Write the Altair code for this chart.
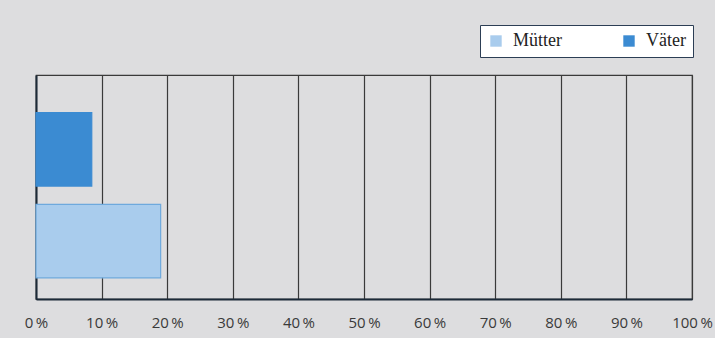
import altair as alt
import pandas as pd

# Share of parents (percent)
groups = ["Väter", "Mütter"]
shares = [8.5, 19.0]
colors = ["#3b8bd2", "#a9cced"]
outlines = ["#3b8bd2", "#6ea9dd"]
ticks = [0, 10, 20, 30, 40, 50, 60, 70, 80, 90, 100]

df = pd.DataFrame({"Gruppe": groups, "Anteil": shares})

bars = alt.Chart(df).mark_bar(strokeWidth=1.2).encode(
    x=alt.X(
        "Anteil:Q",
        scale=alt.Scale(domain=[0, 100], nice=False),
        axis=alt.Axis(
            values=ticks,
            labelExpr="datum.value + '\u2009%'",
            title=None,
            grid=True,
            gridColor="#3a3a3a",
            gridWidth=1.2,
            gridOpacity=1,
            ticks=False,
            domain=True,
            domainColor="#1c2a38",
            domainWidth=2,
            labelFont="Open Sans",
            labelFontSize=15,
            labelColor="#3a3a3a",
            labelPadding=16,
            labelFlush=False,
        ),
    ),
    y=alt.Y(
        "Gruppe:N",
        sort=groups,
        scale=alt.Scale(paddingInner=0.2, paddingOuter=0.32, align=0.64),
        axis=alt.Axis(
            labels=False,
            ticks=False,
            title=None,
            domain=True,
            domainColor="#1c2a38",
            domainWidth=2,
            grid=False,
        ),
    ),
    color=alt.Color(
        "Gruppe:N",
        scale=alt.Scale(domain=groups, range=colors),
        sort=["Mütter", "Väter"],
        legend=alt.Legend(
            title=None,
            orient="none",
            legendX=444,
            legendY=-50,
            direction="horizontal",
            symbolType="square",
            symbolSize=130,
            symbolStrokeWidth=0,
            labelFont="Liberation Serif",
            labelFontSize=18,
            labelColor="#222222",
            columnPadding=58,
            padding=7,
            fillColor="white",
            strokeColor="#2c3e55",
            labelOffset=8,
            values=["Mütter", "Väter"],
        ),
    ),
    stroke=alt.Stroke(
        "Gruppe:N",
        scale=alt.Scale(domain=groups, range=outlines),
        legend=None,
    ),
)

chart = bars.properties(
    width=656,
    height=224,
    background="#dddddf",
    autosize=alt.AutoSizeParams(type="none"),
    padding={"left": 36, "top": 75, "right": 23, "bottom": 39},
).configure_view(
    stroke="#3a3a3a",
    strokeWidth=1.2,
)

chart.save("out.html", embed_options={"renderer": "svg", "actions": False})
